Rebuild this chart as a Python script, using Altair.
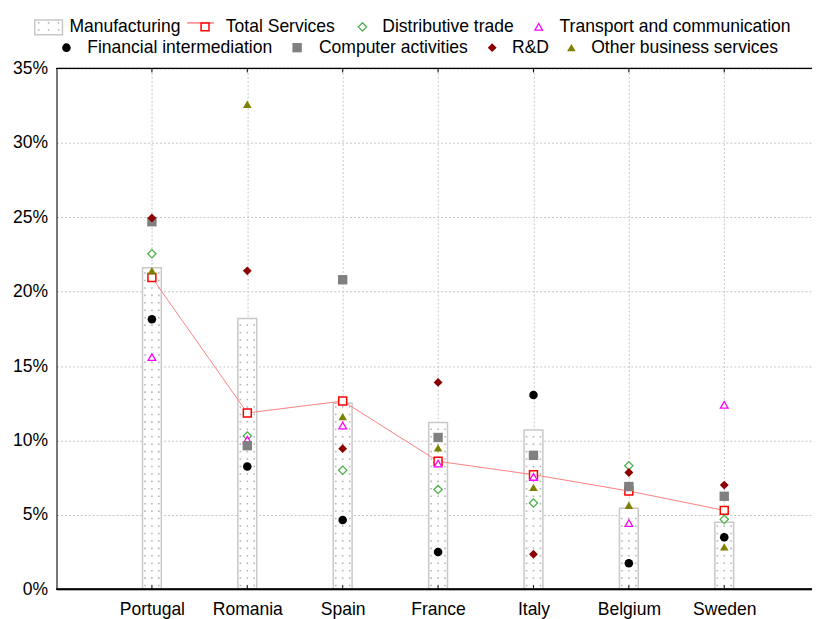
import altair as alt
import pandas as pd
import numpy as np

countries = ["Portugal", "Romania", "Spain", "France", "Italy", "Belgium", "Sweden"]
manufacturing = [21.6, 18.2, 12.5, 11.2, 10.7, 5.45, 4.5]
total_services = [20.95, 11.85, 12.65, 8.6, 7.7, 6.6, 5.3]
distributive_trade = [22.55, 10.3, 8.0, 6.7, 5.8, 8.3, 4.7]
transport_comm = [15.6, 10.05, 11.0, 8.45, 7.55, 4.45, 12.4]
financial_interm = [18.15, 8.25, 4.65, 2.5, 13.05, 1.75, 3.5]
computer_act = [24.7, 9.65, 20.8, 10.2, 9.0, 6.9, 6.25]
r_and_d = [24.95, 21.4, 9.45, 13.9, 2.35, 7.85, 7.0]
other_business = [21.4, 32.6, 11.6, 9.5, 6.85, 5.65, 2.85]
y_ticks = [0, 5, 10, 15, 20, 25, 30, 35]

series = [
    ("Total Services", total_services),
    ("Distributive trade", distributive_trade),
    ("Transport and communication", transport_comm),
    ("Financial intermediation", financial_interm),
    ("Computer activities", computer_act),
    ("R&D", r_and_d),
    ("Other business services", other_business),
]

# marker styles
styles = {
    "Total Services": dict(shape="square", filled=False, color="#ff0000", size=64, strokeWidth=1.5),
    "Distributive trade": dict(shape="diamond", filled=False, color="#4daf4a", size=70, strokeWidth=1.3),
    "Transport and communication": dict(shape="triangle-up", filled=False, color="#ff00ff", size=60, strokeWidth=1.3),
    "Financial intermediation": dict(shape="circle", filled=True, color="#000000", size=75),
    "Computer activities": dict(shape="square", filled=True, color="#808080", size=90),
    "R&D": dict(shape="diamond", filled=True, color="#8b0000", size=80),
    "Other business services": dict(shape="triangle-up", filled=True, color="#808000", size=75),
}

FONT = "Liberation Sans"
FS = 17.7
W, H = 763, 526
idx = list(range(1, len(countries) + 1))

xs = alt.Scale(domain=[0, 7.92], nice=False, zero=False, padding=0)
ys = alt.Scale(domain=[0, 35], nice=False, padding=0)
label_expr = "[" + ",".join(["''"] + ["'" + c + "'" for c in countries]) + "][datum.value]"

xenc = alt.X("idx:Q", scale=xs, axis=alt.Axis(
    values=idx, labelExpr=label_expr, title=None, grid=True, gridDash=[2, 2],
    gridColor="#c4c4c4", ticks=False, domainColor="black", labelFontSize=FS,
    labelColor="black", labelFont=FONT, labelPadding=11, labelFlush=False))
yenc = alt.Y("value:Q", scale=ys, axis=alt.Axis(
    values=y_ticks, labelExpr="datum.value + '%'", title=None, grid=True,
    gridDash=[2, 2], gridColor="#c4c4c4", ticks=False, domainColor="black",
    labelFontSize=FS, labelColor="black", labelFont=FONT, labelPadding=9))

bars_df = pd.DataFrame({"idx": idx, "country": countries, "value": manufacturing})
long_rows = []
for name, vals in series:
    for i, c, v in zip(idx, countries, vals):
        long_rows.append({"idx": i, "country": c, "series": name, "value": v})
long_df = pd.DataFrame(long_rows)

# dotted texture inside the manufacturing bars
dot_rows = []
for i, v in zip(idx, manufacturing):
    for yy in np.arange(0.25, v - 0.2, 0.5):
        dot_rows.append({"idx": i, "value": float(yy)})
dots_df = pd.DataFrame(dot_rows)

layers = []
layers.append(alt.Chart(bars_df).mark_bar(width=19, fill="white", stroke="#c8c8c8", strokeWidth=1.5)
              .encode(x=xenc, y=yenc))
for off in (-7, 0, 7):
    layers.append(alt.Chart(dots_df).mark_square(size=2.5, color="#b4b4b4", opacity=1, xOffset=off)
                  .encode(x=xenc, y=yenc))

# axis baseline and frame top, plus inward ticks
layers.append(alt.Chart(bars_df).mark_rule(color="black", strokeWidth=1)
              .encode(x=alt.value(0), x2=alt.value(W), y=alt.value(H)))
layers.append(alt.Chart(bars_df).mark_rule(color="black", strokeWidth=1)
              .encode(x=alt.value(0), x2=alt.value(W), y=alt.value(0)))
layers.append(alt.Chart(bars_df).mark_rule(color="black", strokeWidth=1)
              .encode(x=xenc, y=alt.value(0), y2=alt.value(4)))
layers.append(alt.Chart(bars_df).mark_rule(color="black", strokeWidth=1)
              .encode(x=xenc, y=alt.value(H - 4), y2=alt.value(H)))

ts_df = long_df[long_df.series == "Total Services"]
layers.append(alt.Chart(ts_df).mark_line(color="#ff8080", strokeWidth=1).encode(x=xenc, y=yenc))

for name, _ in series:
    st = dict(styles[name])
    d = long_df[long_df.series == name]
    filled = st.pop("filled")
    color = st.pop("color")
    if filled:
        mk = alt.Chart(d).mark_point(filled=True, fill=color, stroke=None, opacity=1, **st)
    else:
        mk = alt.Chart(d).mark_point(filled=False, stroke=color, fill="white", fillOpacity=1, opacity=1, **st)
    layers.append(mk.encode(x=xenc, y=yenc))

# manual legend (pixel layout relative to plot origin)
legend_layout = {
    "Total Services": (150, -42, 171),
    "Distributive trade": (309, -42, 329),
    "Transport and communication": (487, -42, 508),
    "Financial intermediation": (10, -21, 31),
    "Computer activities": (243, -21, 265),
    "R&D": (440, -21, 460),
    "Other business services": (520, -21, 540),
}
one = pd.DataFrame({"k": [0]})
# manufacturing symbol
layers.append(alt.Chart(one).mark_rect(fill="white", stroke="#c8c8c8", strokeWidth=1.5)
              .encode(x=alt.value(-22), x2=alt.value(6), y=alt.value(-49), y2=alt.value(-34)))
for dx in (-18, -8, 2):
    for dy in (-46, -39):
        layers.append(alt.Chart(one).mark_square(size=2.5, color="#b4b4b4", opacity=1)
                      .encode(x=alt.value(dx), y=alt.value(dy)))
layers.append(alt.Chart(pd.DataFrame({"t": ["Manufacturing"]})).mark_text(
    align="left", baseline="middle", font=FONT, fontSize=FS, color="black")
    .encode(x=alt.value(13), y=alt.value(-42), text="t:N"))
# total services line in legend
layers.append(alt.Chart(one).mark_rule(color="#ff8080", strokeWidth=1.5)
              .encode(x=alt.value(132), x2=alt.value(159), y=alt.value(-46)))

for name, _ in series:
    sx, sy, tx = legend_layout[name]
    st = dict(styles[name])
    filled = st.pop("filled")
    color = st.pop("color")
    if filled:
        mk = alt.Chart(one).mark_point(filled=True, fill=color, stroke=None, opacity=1, **st)
    else:
        mk = alt.Chart(one).mark_point(filled=False, stroke=color, fill="white", fillOpacity=1, opacity=1, **st)
    layers.append(mk.encode(x=alt.value(sx), y=alt.value(sy)))
    layers.append(alt.Chart(pd.DataFrame({"t": [name]})).mark_text(
        align="left", baseline="middle", font=FONT, fontSize=FS, color="black")
        .encode(x=alt.value(tx), y=alt.value(sy), text="t:N"))

chart = alt.layer(*layers).properties(
    width=W, height=H,
    autosize=alt.AutoSizeParams(type="none"),
    padding={"left": 49, "top": 58, "right": 0, "bottom": 30},
).configure_view(stroke=None).configure(font=FONT)

chart.save("out.html", embed_options={"renderer": "svg", "actions": False})
